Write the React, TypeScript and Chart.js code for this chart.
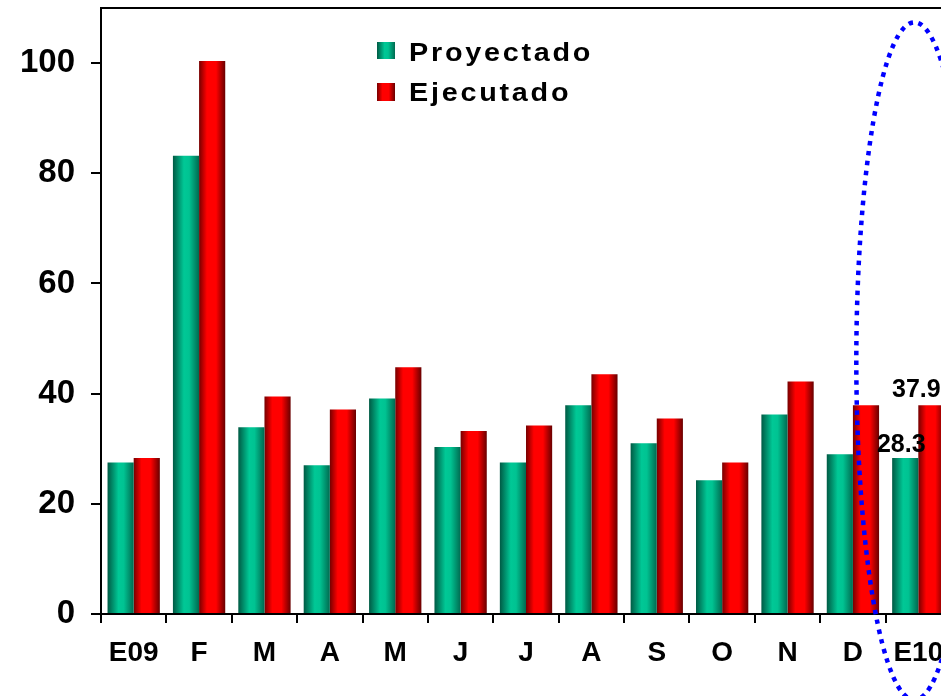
import React, { useEffect, useRef } from 'react';
import { Chart, registerables } from 'chart.js';

Chart.register(...registerables);

const categories = ['E09', 'F', 'M', 'A', 'M', 'J', 'J', 'A', 'S', 'O', 'N', 'D', 'E10'];
const proyectado = [27.5, 83.2, 33.9, 27.0, 39.1, 30.3, 27.5, 37.9, 31.0, 24.3, 36.2, 29.0, 28.3];
const ejecutado = [28.3, 100.4, 39.5, 37.1, 44.8, 33.2, 34.2, 43.5, 35.5, 27.5, 42.2, 37.9, 37.9];
const seriesNames = ['Proyectado', 'Ejecutado'];
const yTicks = [0, 20, 40, 60, 80, 100];
const highlightIndex = 12;
const highlightLabels = ['28.3', '37.9'];

const FONT = 'Arial, "Liberation Sans", sans-serif';

function tealGrad(ctx: CanvasRenderingContext2D, l: number, r: number) {
  const g = ctx.createLinearGradient(l, 0, r, 0);
  g.addColorStop(0, '#005a44');
  g.addColorStop(0.42, '#00c896');
  g.addColorStop(0.62, '#00c392');
  g.addColorStop(1, '#006a50');
  return g;
}
function redGrad(ctx: CanvasRenderingContext2D, l: number, r: number) {
  const g = ctx.createLinearGradient(l, 0, r, 0);
  g.addColorStop(0, '#760000');
  g.addColorStop(0.3, '#ff0000');
  g.addColorStop(0.65, '#ff0000');
  g.addColorStop(1, '#680000');
  return g;
}

function barFill(which: number) {
  return (c: any) => {
    const chart = c.chart;
    const xs = chart.scales && chart.scales.x;
    if (!xs || c.dataIndex === undefined || !chart.chartArea) return which === 0 ? '#00c896' : '#ff0000';
    const center = xs.getPixelForValue(c.dataIndex);
    const cw = xs.width / categories.length;
    const bw = (cw * 0.8) / 2;
    const left = which === 0 ? center - bw : center;
    return which === 0 ? tealGrad(chart.ctx, left, left + bw) : redGrad(chart.ctx, left, left + bw);
  };
}

function wideText(ctx: CanvasRenderingContext2D, text: string, x: number, y: number, sx: number) {
  ctx.save();
  ctx.translate(x, y);
  ctx.scale(sx, 1);
  ctx.fillText(text, 0, 0);
  ctx.restore();
}

const decorPlugin = {
  id: 'decor',
  afterDatasetsDraw(chart: any) {
    const ctx = chart.ctx as CanvasRenderingContext2D;
    const area = chart.chartArea;
    const xs = chart.scales.x;
    const ys = chart.scales.y;
    ctx.save();
    // top border
    ctx.strokeStyle = '#000';
    ctx.lineWidth = 2;
    ctx.beginPath();
    ctx.moveTo(area.left - 1, area.top);
    ctx.lineTo(chart.width, area.top);
    ctx.stroke();

    // value labels for the last group
    ctx.fillStyle = '#000';
    ctx.font = `bold 25px ${FONT}`;
    ctx.textAlign = 'center';
    ctx.textBaseline = 'alphabetic';
    const b0 = chart.getDatasetMeta(0).data[highlightIndex];
    const b1 = chart.getDatasetMeta(1).data[highlightIndex];
    if (b0) ctx.fillText(highlightLabels[0], b0.x - 4, b0.y - 6);
    if (b1) ctx.fillText(highlightLabels[1], b1.x - 15, b1.y - 8);

    // legend
    const lx = area.left + 276;
    const ly = area.top + 34;
    const sq = 18;
    ctx.fillStyle = tealGrad(ctx, lx, lx + sq);
    ctx.fillRect(lx, ly, sq, 17);
    ctx.fillStyle = redGrad(ctx, lx, lx + sq);
    ctx.fillRect(lx, ly + 41, sq, 18);
    ctx.fillStyle = '#000';
    ctx.textAlign = 'left';
    ctx.font = `bold 25px ${FONT}`;
    (ctx as any).letterSpacing = '2.4px';
    wideText(ctx, seriesNames[0], lx + 32, ly + 19, 1.15);
    wideText(ctx, seriesNames[1], lx + 32, ly + 59, 1.15);
    (ctx as any).letterSpacing = '0px';

    // dotted ellipse around the last group
    const cx = xs.getPixelForValue(highlightIndex) - 4;
    const yTop = ys.getPixelForValue(107.4);
    const yBot = ys.getPixelForValue(-15.6);
    const cy = (yTop + yBot) / 2;
    const ry = (yBot - yTop) / 2;
    const rx = 58;
    ctx.strokeStyle = '#0000ff';
    ctx.lineWidth = 4.5;
    ctx.setLineDash([4.5, 5.5]);
    ctx.beginPath();
    ctx.ellipse(cx, cy, rx, ry, 0, 0, Math.PI * 2);
    ctx.stroke();
    ctx.restore();
  },
};

export default function App() {
  const ref = useRef<HTMLCanvasElement | null>(null);
  useEffect(() => {
    if (!ref.current) return;
    const chart = new Chart(ref.current, {
      type: 'bar',
      data: {
        labels: categories,
        datasets: [
          { label: seriesNames[0], data: proyectado, backgroundColor: barFill(0) as any, borderWidth: 0, categoryPercentage: 0.8, barPercentage: 1.0 },
          { label: seriesNames[1], data: ejecutado, backgroundColor: barFill(1) as any, borderWidth: 0, categoryPercentage: 0.8, barPercentage: 1.0 },
        ],
      },
      options: {
        responsive: false,
        animation: false,
        devicePixelRatio: 1,
        layout: { padding: { top: 8, right: 4, left: 0, bottom: 0 } },
        plugins: { legend: { display: false }, tooltip: { enabled: false } },
        scales: {
          x: {
            offset: true,
            grid: { display: true, offset: true, drawOnChartArea: false, drawTicks: true, tickLength: 9, color: '#000', lineWidth: 2 },
            border: { display: true, color: '#000', width: 2 },
            ticks: { color: '#000', font: { family: FONT, size: 28, weight: 'bold' }, padding: 13, maxRotation: 0, autoSkip: false },
            afterFit: (s: any) => {
              s.height = 82;
              s.paddingLeft = 0;
              s.paddingRight = 0;
            },
          },
          y: {
            min: 0,
            max: 110,
            grid: { display: true, drawOnChartArea: false, drawTicks: true, tickLength: 10, color: '#000', lineWidth: 2 },
            border: { display: true, color: '#000', width: 2 },
            ticks: { stepSize: 20, color: '#000', font: { family: FONT, size: 33, weight: 'bold' }, padding: 16 },
            afterBuildTicks: (s: any) => {
              s.ticks = yTicks.map((v) => ({ value: v }));
            },
            afterFit: (s: any) => {
              s.width = 101;
              s.paddingTop = 0;
              s.paddingBottom = 0;
            },
          },
        },
      },
      plugins: [decorPlugin],
    });
    return () => chart.destroy();
  }, []);
  return (
    <div style={{ position: 'fixed', left: 0, top: 0, width: 941, height: 696, overflow: 'hidden', background: '#fff' }}>
      <canvas ref={ref} width={955} height={696} style={{ display: 'block', width: 955, height: 696 }} />
    </div>
  );
}
